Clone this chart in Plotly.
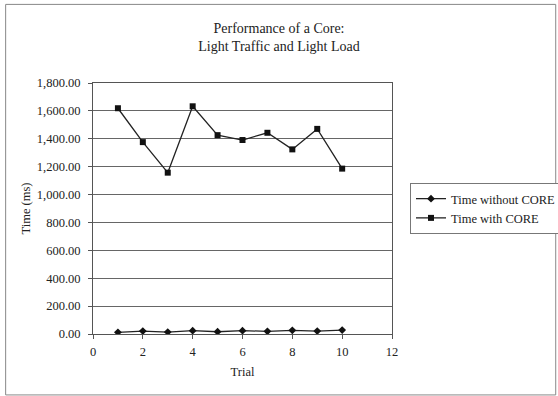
import plotly.graph_objects as go

trials = [1, 2, 3, 4, 5, 6, 7, 8, 9, 10]
time_without_core = [12, 21, 14, 24, 16, 24, 19, 26, 21, 28]
time_with_core = [1619, 1376, 1157, 1633, 1426, 1391, 1443, 1324, 1471, 1186]
series_names = ["Time without CORE", "Time with CORE"]
title_text = "Performance of a Core:<br>Light Traffic and Light Load"
x_title = "Trial"
y_title = "Time (ms)"

FONT = "Liberation Serif, Times New Roman, serif"

fig = go.Figure()
fig.add_trace(go.Scatter(
    x=trials, y=time_without_core, name=series_names[0], mode="lines+markers",
    line=dict(color="#222222", width=1.3),
    marker=dict(symbol="diamond", size=6, color="#111111"),
))
fig.add_trace(go.Scatter(
    x=trials, y=time_with_core, name=series_names[1], mode="lines+markers",
    line=dict(color="#222222", width=1.3),
    marker=dict(symbol="square", size=6, color="#111111"),
))

L, R, T, B = 92.5, 392, 82.7, 334
W, H = 558, 396
pw, ph = R - L, B - T

def px(x):
    return (x - L) / pw

def py(y):
    return (B - y) / ph

fig.update_layout(
    width=W, height=H,
    margin=dict(l=L, r=W - R, t=T, b=H - B, autoexpand=False),
    paper_bgcolor="white", plot_bgcolor="white",
    font=dict(family=FONT, size=12.5, color="#222222"),
    title=dict(text=title_text, x=0.5, xanchor="center", y=1 - 33 / H, yanchor="middle",
               font=dict(family=FONT, size=14, color="#222222")),
    showlegend=True,
    legend=dict(xref="container", yref="container", x=410 / W, y=1 - 183 / H,
                xanchor="left", yanchor="top",
                bordercolor="#777777", borderwidth=1, bgcolor="white",
                font=dict(family=FONT, size=12.5, color="#222222"),
                tracegroupgap=0, itemwidth=30),
    xaxis=dict(range=[0, 12], dtick=2, tick0=0, showgrid=False, zeroline=False,
               showline=True, linecolor="#555555", linewidth=1, mirror=True,
               ticks="outside", ticklen=4, tickcolor="#555555", ticklabelstandoff=2,
               title=dict(text=x_title, standoff=9, font=dict(family=FONT, size=12.5)),
               tickfont=dict(family=FONT, size=12.5)),
    yaxis=dict(range=[0, 1800], dtick=200, tick0=0, tickformat=",.2f",
               showgrid=True, gridcolor="#666666", gridwidth=1, zeroline=False,
               showline=True, linecolor="#555555", linewidth=1, mirror=True,
               ticks="outside", ticklen=4, tickcolor="#555555", ticklabelstandoff=5,
               title=dict(text=y_title, standoff=3, font=dict(family=FONT, size=12.5)),
               tickfont=dict(family=FONT, size=12.5)),
    shapes=[dict(type="rect", xref="paper", yref="paper",
                 x0=px(5), x1=px(556), y0=py(395), y1=py(4),
                 line=dict(color="#888888", width=1), layer="below")],
)

fig.write_html("out.html")
